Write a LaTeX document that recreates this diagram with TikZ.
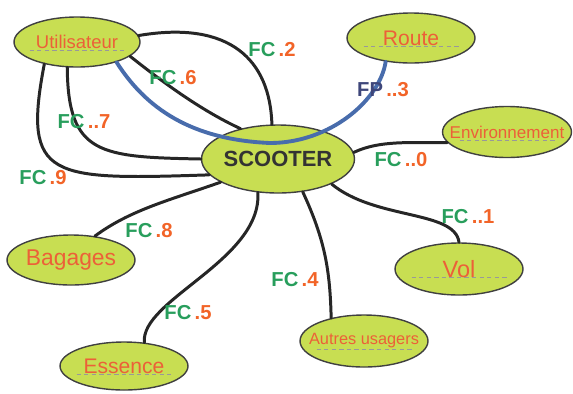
\documentclass[tikz,border=0pt]{standalone}
\usepackage{fontspec}
\setmainfont{Liberation Sans}
\usepackage{tikz}
\usetikzlibrary{shapes.geometric}
\usepackage{xcolor}
\definecolor{leafgreen}{RGB}{200,222,82}
\definecolor{fcgreen}{RGB}{40,158,92}
\definecolor{numorange}{RGB}{242,100,40}
\definecolor{txtorange}{RGB}{236,96,56}
\definecolor{fpblue}{RGB}{72,108,172}
\definecolor{fpdark}{RGB}{62,70,122}
\newcommand{\fcl}[2]{\textcolor{fcgreen}{#1}\,\textcolor{numorange}{#2}}

\begin{document}
\begin{tikzpicture}[x=0.02cm, y=-0.02cm,
    elem/.style={ellipse, draw=black!75, line width=0.8pt, fill=leafgreen,
                inner sep=0pt, minimum width=2.56cm, minimum height=1cm},
    dashes/.style={path picture={\draw[black!40, line width=0.45pt, dash pattern=on 2.5pt off 1.8pt]
                ([xshift=-0.95cm, yshift=-0.17cm]path picture bounding box.center) -- ++(1.9cm,0pt);}},
    txt/.style={font=\fontsize{#1}{#1}\selectfont, text=txtorange},
    link/.style={line width=1.7pt, black!85, line cap=round},
    fpline/.style={line width=2.2pt, fpblue, line cap=round},
    fc/.style={font=\fontsize{11.5}{13}\selectfont\bfseries, inner sep=1pt}
]
    \useasboundingbox (0,0) rectangle (573,393);

    \node[elem, dashes, minimum width=2.52cm, label={[txt=10.5]center:Utilisateur}] (user) at (77,42) {};
    \node[elem, dashes, label={[txt=12]center:Route}]                               (route) at (411,38) {};
    \node[elem, dashes, minimum width=2.58cm, minimum height=1.02cm,
          label={[txt=9.7]center:Environnement}]                                     (env) at (507,132) {};
    \node[elem, dashes, minimum height=1.04cm, label={[txt=13.4]center:Vol}]        (vol) at (459,269) {};
    \node[elem, dashes, minimum height=1.04cm, label={[txt=9.3]center:Autres usagers}] (aut) at (364,341) {};
    \node[elem, dashes, minimum height=0.96cm, label={[txt=12]center:Essence}]      (ess) at (124,366) {};
    \node[elem, label={[txt=13]center:Bagages}]                                      (bag) at (71,260) {};
    \node[elem, minimum width=3.06cm, minimum height=1.36cm,
          label={[font=\fontsize{12.5}{14}\selectfont\bfseries, text=black!80]center:SCOOTER}] (scoot) at (278,159) {};

    \draw[link] (user.6)    .. controls (230,20)  and (270,60)  .. (scoot.100);
    \draw[link] (user.-15)  .. controls (160,80)  and (200,110) .. (scoot.141);
    \draw[link] (user.-111) .. controls (68,155)  and (100,157) .. (scoot.180);
    \draw[link] (user.-146) .. controls (22,180)  and (50,180)  .. (scoot.-167);
    \draw[link] (scoot.-158) .. controls (170,200) and (130,210) .. (bag.45);
    \draw[link] (scoot.-121) .. controls (262,260) and (140,300) .. (ess.49);
    \draw[link] (scoot.-53) .. controls (325,240) and (330,270) .. (aut.145);
    \draw[link] (scoot.-25) .. controls (375,220) and (455,210) .. (vol.90);
    \draw[link] (scoot.5)   .. controls (380,140) and (410,143) .. (env.-170);

    \coordinate (fpmid) at (270,143);
    \draw[fpline] (user.-27) .. controls (150,115) and (200,140) .. (fpmid)
                  .. controls (330,143) and (380,100) .. (route.-137);

    \node[fc] (lab2) at (272,50)  {\fcl{FC}{.2}};
    \node[fc] (lab6) at (173,78)  {\fcl{FC}{.6}};
    \node[fc] (lab7) at (84,122)  {\fcl{FC}{..7}};
    \node[fc] (lab9) at (43,178)  {\fcl{FC}{.9}};
    \node[fc] (lab3) at (383,90)  {\textcolor{fpdark}{FP}\,\textcolor{numorange}{..3}};
    \node[fc] (lab0) at (401,160) {\fcl{FC}{..0}};
    \node[fc] (lab8) at (149,231) {\fcl{FC}{.8}};
    \node[fc] (lab5) at (188,313) {\fcl{FC}{.5}};
    \node[fc] (lab4) at (295,280) {\fcl{FC}{.4}};
    \node[fc] (lab1) at (468,217) {\fcl{FC}{..1}};
\end{tikzpicture}
\end{document}
